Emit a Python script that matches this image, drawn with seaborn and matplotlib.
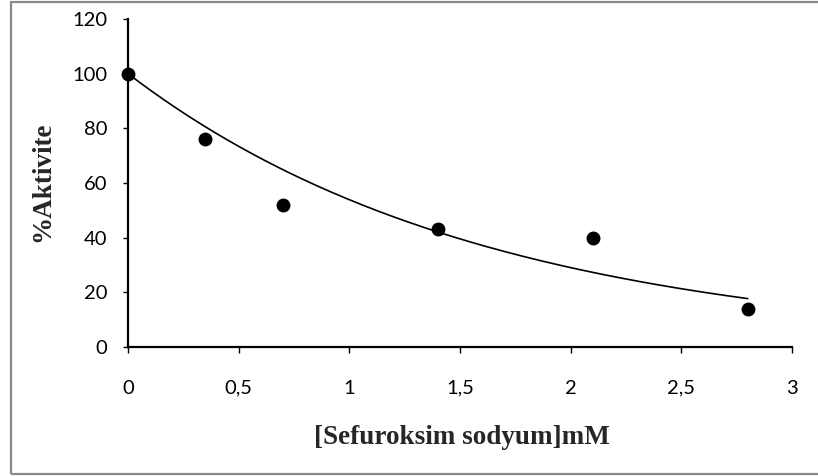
import numpy as np
import pandas as pd
import matplotlib
matplotlib.use("Agg")
import matplotlib.pyplot as plt
from matplotlib.patches import Rectangle
from matplotlib.ticker import FuncFormatter, FixedLocator
import seaborn as sns

# ---- data ----
concentration_mM = [0.0, 0.35, 0.7, 1.4, 2.1, 2.8]
activity_pct = [100, 76, 52, 43, 40, 14]
x_ticks = [0, 0.5, 1, 1.5, 2, 2.5, 3]
y_ticks = [0, 20, 40, 60, 80, 100, 120]
x_label = "[Sefuroksim sodyum]mM"
y_label = "%Aktivite"

sns.set_theme(style="ticks")
plt.rcParams["font.family"] = ["Lato", "DejaVu Sans"]

W, H = 818, 476
fig = plt.figure(figsize=(W / 100, H / 100), dpi=100)
fig.patch.set_facecolor("white")

# outer chart border (grey frame)
fig.patches.append(Rectangle((11 / W, 2 / H), 1.2, (474.5 - 2) / H,
                             transform=fig.transFigure, fill=False,
                             edgecolor="#8a8a8a", linewidth=1.6))

ax = fig.add_axes([128 / W, (H - 347) / H, (792 - 128) / W, (347 - 19) / H])

df = pd.DataFrame({"x": concentration_mM, "y": activity_pct})

# exponential trendline fitted to the data (intercept anchored at first value)
x_arr = np.array(concentration_mM)
y_arr = np.array(activity_pct, dtype=float)
y0 = y_arr[0]
b = np.sum(x_arr * np.log(y_arr / y0)) / np.sum(x_arr ** 2)
xs = np.linspace(x_arr.min(), x_arr.max(), 200)
trend = pd.DataFrame({"x": xs, "y": y0 * np.exp(b * xs)})

sns.lineplot(data=trend, x="x", y="y", color="black", linewidth=1.2, ax=ax)
sns.scatterplot(data=df, x="x", y="y", s=100, color="black",
                edgecolor="black", linewidth=0, zorder=3, clip_on=False, ax=ax)

ax.set_xlim(0, 3)
ax.set_ylim(0, 120)
ax.xaxis.set_major_locator(FixedLocator(x_ticks))
ax.yaxis.set_major_locator(FixedLocator(y_ticks))
fmt = FuncFormatter(lambda v, p: f"{v:g}".replace(".", ","))
ax.xaxis.set_major_formatter(fmt)
ax.yaxis.set_major_formatter(fmt)

for s in ["top", "right"]:
    ax.spines[s].set_visible(False)
for s in ["left", "bottom"]:
    ax.spines[s].set_color("black")
    ax.spines[s].set_linewidth(1.6)

ax.tick_params(axis="x", direction="out", length=4.5, width=1, color="black",
               labelsize=14.5, pad=19, labelcolor="black")
ax.tick_params(axis="y", direction="out", length=3.8, width=1, color="black",
               labelsize=14.5, pad=11, labelcolor="black")
ax.set_xlabel("")
ax.set_ylabel("")

fig.text(462 / W, 1 - 437 / H, x_label, ha="center", va="center",
         family="Liberation Serif", fontweight="bold", fontsize=19.5)
fig.text(43 / W, 1 - 182 / H, y_label, ha="center", va="center", rotation=90,
         family="Liberation Serif", fontweight="bold", fontsize=19.5)

fig.savefig("out.png", dpi=100, facecolor="white")
